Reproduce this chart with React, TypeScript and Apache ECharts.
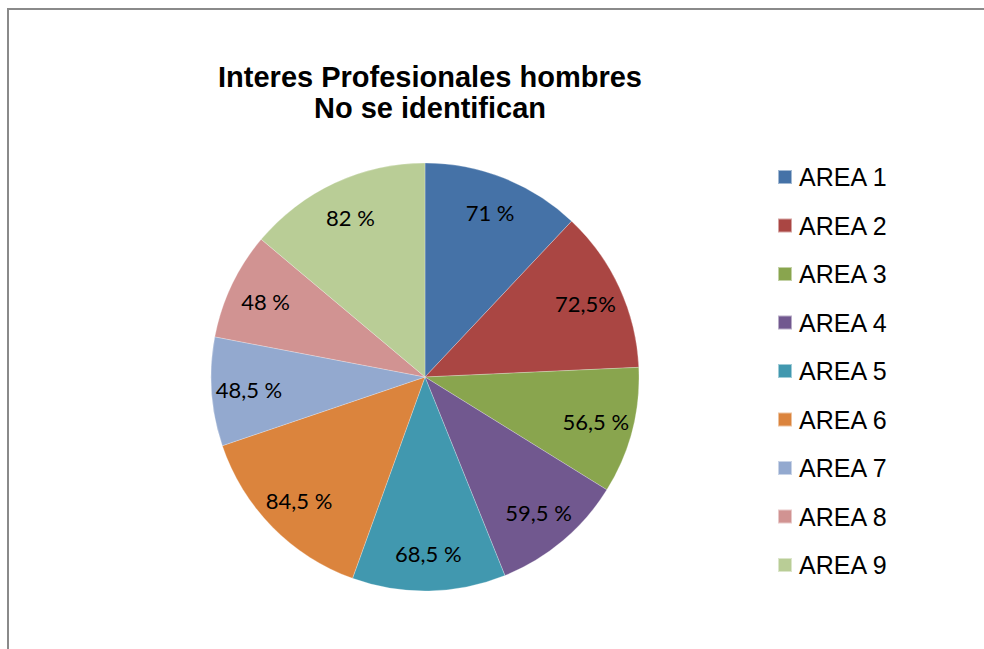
import React, { useEffect, useRef } from "react";
import * as echarts from "echarts";

const categories = ["AREA 1", "AREA 2", "AREA 3", "AREA 4", "AREA 5", "AREA 6", "AREA 7", "AREA 8", "AREA 9"];
const values = [71, 72.5, 56.5, 59.5, 68.5, 84.5, 48.5, 48, 82];
const labelTexts = ["71 %", "72,5%", "56,5 %", "59,5 %", "68,5 %", "84,5 %", "48,5 %", "48 %", "82 %"];
const colors = ["#4572A7", "#AA4643", "#89A54E", "#71588F", "#4198AF", "#DB843D", "#93A9CF", "#D19392", "#B9CD96"];
const titleText = "Interes Profesionales hombres\nNo se identifican";

export default function App() {
  const ref = useRef<HTMLDivElement>(null);
  useEffect(() => {
    const chart = echarts.init(ref.current!, undefined, { renderer: "svg" });
    const R = 214;
    chart.setOption({
      animation: false,
      backgroundColor: "#ffffff",
      color: colors,
      title: {
        text: titleText,
        left: 430,
        top: 61,
        padding: 0,
        textAlign: "center",
        textStyle: {
          fontFamily: "Liberation Sans, Arial, sans-serif",
          fontWeight: "bold",
          fontSize: 29,
          lineHeight: 31,
          color: "#000000",
        },
      },
      legend: {
        orient: "vertical",
        left: 777,
        top: 164,
        padding: 0,
        itemWidth: 14,
        itemHeight: 14,
        itemGap: 22.5,
        icon: "rect",
        data: categories,
        selectedMode: false,
        textStyle: {
          fontFamily: "Liberation Sans, Arial, sans-serif",
          fontSize: 25,
          lineHeight: 26,
          color: "#000000",
          padding: [0, 0, 0, 2],
        },
      },
      graphic: [
        {
          type: "polyline",
          shape: { points: [[8, 700], [8, 9], [1000, 9]] },
          style: { stroke: "#8a8a8a", lineWidth: 2, fill: "none" },
          silent: true,
        },
      ],
      series: [
        {
          type: "pie",
          center: [425, 377],
          radius: [0, R],
          startAngle: 90,
          clockwise: true,
          label: { show: false },
          labelLine: { show: false },
          itemStyle: { borderColor: "rgba(255,255,255,0.5)", borderWidth: 0.5 },
          emphasis: { disabled: true },
          data: categories.map((name, i) => ({ name, value: values[i] })),
        },
        {
          type: "pie",
          center: [425, 377],
          radius: [Math.round(R * 0.62), R],
          startAngle: 90,
          clockwise: true,
          silent: true,
          legendHoverLink: false,
          itemStyle: { color: "rgba(0,0,0,0)", borderWidth: 0 },
          emphasis: { disabled: true },
          labelLine: { show: false },
          label: {
            show: true,
            position: "inside",
            formatter: (p: any) => labelTexts[p.dataIndex],
            fontFamily: "Lato, Open Sans, sans-serif",
            fontSize: 22,
            color: "#000000",
          },
          data: categories.map((name, i) => ({ name: name + " ", value: values[i] })),
        },
      ],
    });
    return () => chart.dispose();
  }, []);
  return (
    <div
      ref={ref}
      style={{ position: "absolute", left: 0, top: 0, width: 984, height: 649, overflow: "hidden" }}
    />
  );
}
